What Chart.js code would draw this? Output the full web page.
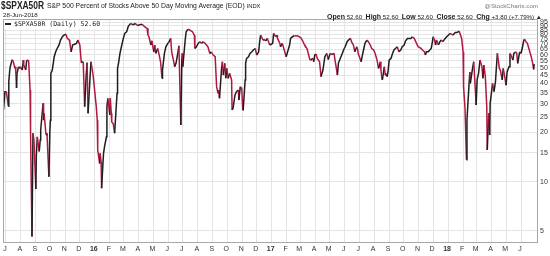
<!DOCTYPE html>
<html>
<head>
<meta charset="utf-8">
<script src="https://cdn.jsdelivr.net/npm/chart.js@4.4.0/dist/chart.umd.min.js"></script>
<style>
  body { margin: 0; background: #fff; }
  #wrap { position: relative; width: 550px; height: 256px; font-family: 'Liberation Sans', Arial, sans-serif; color: #222; overflow: hidden; }
  #wrap canvas { position: absolute; left: 0; top: 0; }
  .t { position: absolute; white-space: nowrap; line-height: 1; }
  #sym { left: 1px; top: 0px; font-size: 10.5px; font-weight: bold; transform: scaleX(0.8); transform-origin: 0 0; }
  #name { left: 47px; top: 3px; font-size: 6.8px; }
  #name small { font-size: 5.8px; }
  #date { left: 3px; top: 12px; font-size: 6.2px; }
  #copy { right: 12px; top: 3px; font-size: 6.2px; color: #777; }
  #ohlc { right: 8px; top: 12.5px; font-size: 6.2px; }
  #ohlc b { font-size: 7px; }
  #leg { left: 4px; top: 20px; font-family: 'DejaVu Sans Mono', monospace; font-size: 6.5px; background: #fff; padding: 1px 2px 1px 1px; }
  #leg i { display: inline-block; width: 6px; height: 1.5px; background: #222; vertical-align: middle; margin-right: 3px; }
</style>
</head>
<body>
<div id="wrap">
  <canvas id="chart" width="550" height="256"></canvas>
  <div class="t" id="sym">$SPXA50R</div>
  <div class="t" id="name">S&amp;P 500 Percent of Stocks Above 50 Day Moving Average (EOD) <small>INDX</small></div>
  <div class="t" id="date">28-Jun-2018</div>
  <div class="t" id="copy">@StockCharts.com</div>
  <div class="t" id="ohlc"><b>Open</b> 52.60 &nbsp;<b>High</b> 52.60 &nbsp;<b>Low</b> 52.60 &nbsp;<b>Close</b> 52.60 &nbsp;<b>Chg</b> +3.80 (+7.79%) ▲</div>
  <div class="t" id="leg"><i></i>$SPXA50R (Daily) 52.60</div>
</div>
<script>
// percent of S&P 500 stocks above their 50 day MA
const dates2015 = ['06-26','06-29','07-02','07-06','07-07','07-09','07-10','07-14','07-16','07-20','07-21','07-23','07-24','07-27','07-30','07-31','08-04','08-06','08-07','08-11','08-13','08-17','08-18','08-20','08-21','08-24','08-26','08-28','09-01','09-02','09-04','09-08','09-10','09-11','09-16','09-17','09-18','09-22','09-24','09-28','09-30','10-01','10-02','10-05','10-09','10-12','10-15','10-19','10-22','10-26','10-29','11-02','11-05','11-09','11-10','11-13','11-16','11-20','11-24','11-27','12-01','12-03','12-04','12-08','12-11','12-14','12-16','12-18','12-22','12-24','12-28','12-30'];
const values2015 = [27.5,35.6,35.6,29.0,41.0,48.3,50.6,55.9,54.6,49.4,50.6,37.5,46.0,50.6,49.4,50.6,48.3,55.6,51.8,48.3,55.6,55.0,48.3,36.4,19.8,4.6,19.8,18.0,9.0,14.5,18.8,15.3,18.0,20.7,30.2,23.8,26.2,19.3,19.8,10.7,20.7,23.8,46.0,48.3,58.3,62.5,65.5,68.8,73.8,77.3,79.2,80.0,75.5,73.8,72.1,62.5,68.8,69.5,70.4,73.8,68.8,58.3,53.6,54.3,28.8,44.0,53.6,26.2,43.0,54.3,46.0,40.5];

const dates2016 = ['01-04','01-06','01-07','01-11','01-12','01-14','01-15','01-19','01-21','01-25','01-26','01-28','02-01','02-02','02-04','02-05','02-08','02-11','02-16','02-17','02-19','02-22','02-25','02-29','03-03','03-07','03-10','03-15','03-18','03-22','03-24','03-30','04-04','04-08','04-13','04-18','04-20','04-22','04-26','04-28','05-02','05-04','05-06','05-10','05-13','05-16','05-19','05-20','05-24','05-27','05-31','06-03','06-06','06-08','06-13','06-14','06-17','06-21','06-23','06-27','06-29','06-30','07-01','07-06','07-08','07-12','07-15','07-21','07-25','07-26','07-29','08-02','08-05','08-09','08-12','08-16','08-19','08-22','08-26','08-29','09-02','09-06','09-09','09-12','09-13','09-15','09-19','09-21','09-23','09-26','09-28','09-30','10-03','10-06','10-10','10-11','10-13','10-17','10-20','10-24','10-25','10-28','10-31','11-02','11-03','11-07','11-08','11-10','11-14','11-17','11-21','11-24','11-28','12-01','12-05','12-07','12-09','12-14','12-16','12-20','12-23','12-28'];
const values2016 = [28.8,23.8,15.6,12.9,14.9,13.2,9.1,14.9,16.3,18.8,28.8,32.4,25.6,32.4,26.2,23.2,22.7,19.8,34.8,49.4,53.1,61.1,67.1,75.5,81.1,83.0,89.1,93.4,92.0,92.0,93.4,90.5,92.0,92.0,89.1,87.0,79.2,77.3,68.8,73.0,62.5,68.8,61.1,65.5,60.0,54.3,43.0,48.3,61.1,67.1,70.4,72.1,75.5,62.5,53.1,50.6,53.1,62.0,68.0,22.2,55.6,61.1,50.6,73.8,83.0,86.0,85.0,83.0,79.0,65.5,67.0,70.4,72.0,70.4,72.0,70.4,68.8,67.0,61.0,62.5,59.7,58.3,38.2,34.8,36.4,32.4,48.3,54.3,45.0,53.1,43.0,49.4,43.0,46.1,42.0,27.5,28.2,34.0,35.6,36.4,31.6,38.2,37.3,27.5,27.5,42.0,53.1,57.0,58.3,61.0,62.5,64.1,65.5,59.7,62.5,72.0,79.0,73.8,74.6,73.0,75.5,68.8];

const dates2017 = ['01-03','01-05','01-09','01-12','01-13','01-18','01-19','01-23','01-26','01-31','02-02','02-07','02-09','02-13','02-17','02-24','03-02','03-06','03-09','03-10','03-15','03-21','03-23','03-27','03-29','03-31','04-03','04-05','04-10','04-13','04-17','04-19','04-21','04-25','04-28','05-02','05-05','05-10','05-12','05-17','05-19','05-23','05-26','05-31','06-02','06-06','06-09','06-13','06-15','06-19','06-22','06-26','06-28','06-29','07-05','07-07','07-10','07-13','07-17','07-20','07-24','07-27','07-31','08-03','08-07','08-10','08-14','08-15','08-17','08-18','08-22','08-24','08-25','08-28','08-30','09-01','09-05','09-08','09-11','09-14','09-18','09-21','09-25','09-28','10-02','10-05','10-09','10-16','10-19','10-23','10-26','10-31','11-06','11-09','11-13','11-15','11-17','11-21','11-27','11-29','12-01','12-04','12-06','12-08','12-12','12-15','12-18','12-21','12-26','12-29'];
const values2017 = [70.4,81.0,77.3,79.0,75.5,70.4,67.1,70.4,65.5,58.3,61.1,68.8,75.5,77.3,78.5,78.0,76.5,73.0,69.8,68.8,65.5,56.0,55.6,57.0,54.3,59.7,60.5,57.0,54.3,44.0,48.3,53.1,58.3,61.1,56.0,61.1,60.0,61.1,55.6,45.0,53.1,57.0,60.0,65.5,67.1,72.1,73.8,75.5,72.1,68.8,62.5,67.1,64.1,61.0,54.3,58.3,64.1,70.4,73.8,72.1,68.8,65.5,64.1,61.1,55.6,49.4,54.3,48.3,43.0,42.0,50.6,45.0,46.0,44.0,48.3,55.6,57.0,61.1,64.1,65.5,67.1,62.5,64.1,67.1,68.8,73.0,75.5,75.5,77.3,75.5,72.1,67.1,65.5,64.1,62.5,59.7,62.5,62.5,65.5,70.4,77.3,73.8,68.8,73.8,68.8,72.1,73.8,72.1,75.5,77.3];

const dates2018 = ['01-02','01-05','01-08','01-11','01-16','01-19','01-24','01-29','02-01','02-02','02-05','02-08','02-09','02-13','02-15','02-16','02-20','02-23','02-26','02-28','03-02','03-05','03-08','03-12','03-14','03-16','03-19','03-22','03-23','03-26','03-28','03-29','04-03','04-06','04-09','04-11','04-13','04-17','04-19','04-23','04-25','04-27','05-01','05-03','05-07','05-09','05-11','05-15','05-17','05-21','05-23','05-25','05-29','06-01','06-04','06-06','06-08','06-11','06-14','06-18','06-20','06-22','06-25','06-27','06-28'];
const values2018 = [79.2,81.0,80.3,79.2,82.0,82.0,83.5,75.5,62.5,38.2,28.0,13.6,23.8,38.2,47.0,40.0,48.3,54.3,38.2,29.5,42.0,46.1,55.6,50.6,43.0,51.8,44.0,28.8,15.6,26.2,19.3,30.2,40.0,35.6,41.0,50.6,61.1,49.4,48.3,42.0,49.4,46.1,39.0,47.0,50.6,61.1,59.7,55.6,61.1,62.5,61.1,53.1,62.5,61.1,67.1,72.1,74.8,72.1,70.4,64.1,61.1,58.3,53.1,48.8,52.6];

// axis ticks
const monthLabels = ['J','A','S','O','N','D','16','F','M','A','M','J','J','A','S','O','N','D','17','F','M','A','M','J','J','A','S','O','N','D','18','F','M','A','M','J'];
const yTicks = [5,10,15,20,25,30,35,40,45,50,55,60,65,70,75,80,85,90,95];

const UP = '#1e1e1e';
const DOWN = '#b01840';
const GRID = '#e4e4e4';
const FONT = "'Liberation Sans', Arial, sans-serif";

// days from 2016-01-01
function dayNum(y, m, d) {
  return (Date.UTC(y, m - 1, d) - Date.UTC(2016, 0, 1)) / 86400000;
}

const points = [];
[[2015, dates2015, values2015], [2016, dates2016, values2016],
 [2017, dates2017, values2017], [2018, dates2018, values2018]].forEach(([yr, ds, vs]) => {
  ds.forEach((md, i) => {
    points.push({ x: dayNum(yr, +md.slice(0, 2), +md.slice(3, 5)), y: vs[i] });
  });
});

// first day of each month, Jul 2015 .. Jun 2018
const monthTicks = monthLabels.map((lab, i) => {
  const m = 6 + i;
  return dayNum(2015 + Math.floor(m / 12), (m % 12) + 1, 1);
});

const frame = {
  id: 'frame',
  afterDraw(chart) {
    const a = chart.chartArea;
    const ctx = chart.ctx;
    ctx.save();
    ctx.strokeStyle = '#a8a8a8';
    ctx.lineWidth = 1;
    ctx.strokeRect(Math.round(a.left) + 0.5, Math.round(a.top) + 0.5,
      Math.round(a.right - a.left) - 1, Math.round(a.bottom - a.top) - 1);
    ctx.restore();
  }
};

new Chart(document.getElementById('chart'), {
  type: 'line',
  data: {
    datasets: [{
      data: points,
      borderWidth: 1.5,
      borderColor: DOWN,
      pointRadius: 0,
      tension: 0,
      segment: {
        borderColor: c => c.p1.parsed.y >= c.p0.parsed.y ? UP : DOWN
      }
    }]
  },
  options: {
    responsive: false,
    animation: false,
    devicePixelRatio: 1,
    layout: { padding: { top: 19, left: 3, right: 0, bottom: 0 } },
    plugins: { legend: { display: false }, tooltip: { enabled: false } },
    scales: {
      x: {
        type: 'linear',
        min: -190,
        max: 917,
        grid: { color: GRID, drawTicks: false },
        border: { display: false },
        afterBuildTicks: s => { s.ticks = monthTicks.map(v => ({ value: v })); },
        afterFit: s => { s.height = 13; s.paddingLeft = 0; s.paddingRight = 0; },
        ticks: {
          autoSkip: false,
          maxRotation: 0,
          padding: 2,
          labelOffset: -1,
          color: '#333',
          font: c => ({ family: FONT, size: 7, weight: (monthLabels[c.index] || '').length > 1 ? 'bold' : 'normal' }),
          callback: (v, i) => monthLabels[i]
        }
      },
      y: {
        type: 'logarithmic',
        position: 'right',
        min: 4.2,
        max: 99.3,
        grid: { color: GRID, drawTicks: false },
        border: { display: false },
        afterBuildTicks: s => { s.ticks = yTicks.map(v => ({ value: v })); },
        afterFit: s => { s.width = 12; s.paddingTop = 0; s.paddingBottom = 0; },
        ticks: {
          padding: 2,
          color: '#333',
          font: { family: FONT, size: 7 },
          callback: v => String(v)
        }
      }
    }
  },
  plugins: [frame]
});
</script>
</body>
</html>
